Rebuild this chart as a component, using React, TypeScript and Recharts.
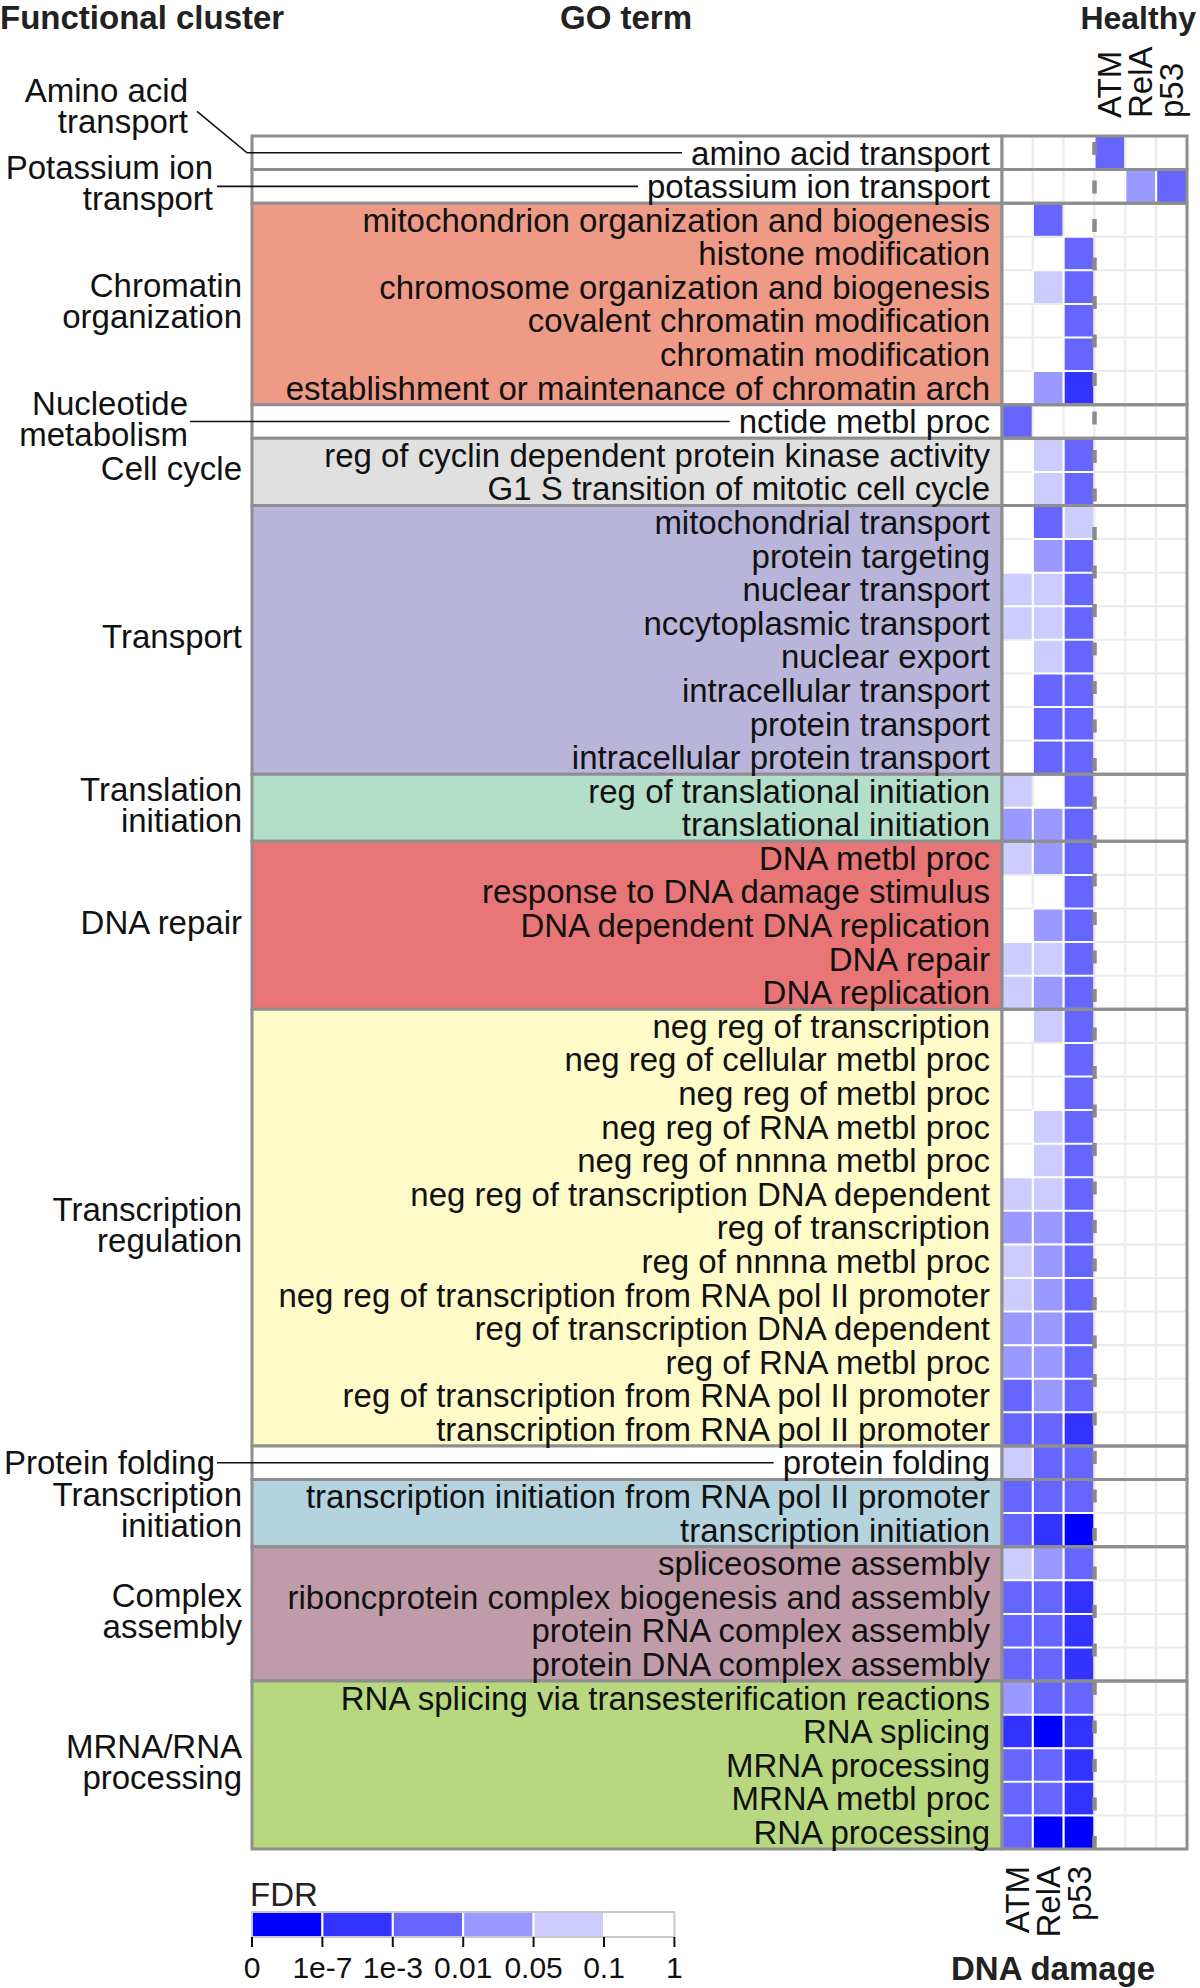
import React from 'react';
import {
  BarChart,
  Bar,
  Cell,
  XAxis,
  YAxis,
  ReferenceArea,
  ReferenceLine,
  LabelList
} from 'recharts';

const FONT = '"Liberation Sans", Arial, Helvetica, sans-serif';

// GO terms, top to bottom
const GO_TERMS = [
  'amino acid transport',
  'potassium ion transport',
  'mitochondrion organization and biogenesis',
  'histone modification',
  'chromosome organization and biogenesis',
  'covalent chromatin modification',
  'chromatin modification',
  'establishment or maintenance of chromatin arch',
  'nctide metbl proc',
  'reg of cyclin dependent protein kinase activity',
  'G1 S transition of mitotic cell cycle',
  'mitochondrial transport',
  'protein targeting',
  'nuclear transport',
  'nccytoplasmic transport',
  'nuclear export',
  'intracellular transport',
  'protein transport',
  'intracellular protein transport',
  'reg of translational initiation',
  'translational initiation',
  'DNA metbl proc',
  'response to DNA damage stimulus',
  'DNA dependent DNA replication',
  'DNA repair',
  'DNA replication',
  'neg reg of transcription',
  'neg reg of cellular metbl proc',
  'neg reg of metbl proc',
  'neg reg of RNA metbl proc',
  'neg reg of nnnna metbl proc',
  'neg reg of transcription DNA dependent',
  'reg of transcription',
  'reg of nnnna metbl proc',
  'neg reg of transcription from RNA pol II promoter',
  'reg of transcription DNA dependent',
  'reg of RNA metbl proc',
  'reg of transcription from RNA pol II promoter',
  'transcription from RNA pol II promoter',
  'protein folding',
  'transcription initiation from RNA pol II promoter',
  'transcription initiation',
  'spliceosome assembly',
  'riboncprotein complex biogenesis and assembly',
  'protein RNA complex assembly',
  'protein DNA complex assembly',
  'RNA splicing via transesterification reactions',
  'RNA splicing',
  'MRNA processing',
  'MRNA metbl proc',
  'RNA processing',
];

// functional clusters
const CLUSTER_LABELS = [
  ['Amino acid', 'transport'],
  ['Potassium ion', 'transport'],
  ['Chromatin', 'organization'],
  ['Nucleotide', 'metabolism'],
  ['Cell cycle'],
  ['Transport'],
  ['Translation', 'initiation'],
  ['DNA repair'],
  ['Transcription', 'regulation'],
  ['Protein folding'],
  ['Transcription', 'initiation'],
  ['Complex', 'assembly'],
  ['MRNA/RNA', 'processing'],
];
const CLUSTER_SIZES = [1, 1, 6, 1, 2, 8, 2, 5, 13, 1, 2, 4, 5];
const CLUSTER_COLORS = [
  '#ffffff', '#ffffff', '#ee9a86', '#ffffff', '#e0e0e0', '#b9b4d9', '#b3dec9',
  '#e87676', '#fffbc9', '#ffffff', '#b4d3df', '#c09cab', '#b8d87f',
];

// FDR bins: 0 = below 1e-7 ... 5 = above 0.1
const FDR_COLORS = ['#0000ff', '#3333ff', '#6666ff', '#9999ff', '#ccccff', '#ffffff'];
const FDR_TICKS = ['0', '1e-7', '1e-3', '0.01', '0.05', '0.1', '1'];

const COLUMN_NAMES = ['ATM', 'RelA', 'p53'];

// FDR bin of each GO term, DNA damage
const DD_ATM = [
  5, 5, 5, 5, 5, 5, 5, 5, 2, 5,
  5, 5, 5, 4, 4, 5, 5, 5, 5, 4,
  3, 4, 5, 5, 4, 4, 5, 5, 5, 5,
  5, 4, 3, 4, 4, 3, 3, 2, 2, 4,
  2, 2, 4, 2, 2, 2, 3, 1, 2, 2,
  2,
];
const DD_RELA = [
  5, 5, 2, 5, 4, 5, 5, 3, 5, 4,
  4, 2, 3, 4, 4, 4, 2, 2, 2, 5,
  3, 3, 5, 3, 4, 3, 4, 5, 5, 4,
  4, 4, 3, 3, 3, 3, 3, 3, 2, 2,
  2, 1, 3, 2, 2, 2, 2, 0, 2, 2,
  0,
];
const DD_P53 = [
  5, 5, 5, 2, 2, 2, 2, 1, 5, 2,
  2, 4, 2, 2, 2, 2, 2, 2, 2, 2,
  2, 2, 2, 2, 2, 2, 2, 2, 2, 2,
  2, 2, 2, 2, 2, 2, 2, 2, 1, 2,
  2, 0, 2, 1, 1, 1, 2, 1, 1, 1,
  0,
];
// FDR bin of each GO term, healthy
const H_ATM = [
  2, 5, 5, 5, 5, 5, 5, 5, 5, 5,
  5, 5, 5, 5, 5, 5, 5, 5, 5, 5,
  5, 5, 5, 5, 5, 5, 5, 5, 5, 5,
  5, 5, 5, 5, 5, 5, 5, 5, 5, 5,
  5, 5, 5, 5, 5, 5, 5, 5, 5, 5,
  5,
];
const H_RELA = [
  5, 3, 5, 5, 5, 5, 5, 5, 5, 5,
  5, 5, 5, 5, 5, 5, 5, 5, 5, 5,
  5, 5, 5, 5, 5, 5, 5, 5, 5, 5,
  5, 5, 5, 5, 5, 5, 5, 5, 5, 5,
  5, 5, 5, 5, 5, 5, 5, 5, 5, 5,
  5,
];
const H_P53 = [
  5, 2, 5, 5, 5, 5, 5, 5, 5, 5,
  5, 5, 5, 5, 5, 5, 5, 5, 5, 5,
  5, 5, 5, 5, 5, 5, 5, 5, 5, 5,
  5, 5, 5, 5, 5, 5, 5, 5, 5, 5,
  5, 5, 5, 5, 5, 5, 5, 5, 5, 5,
  5,
];

const COLUMNS = [DD_ATM, DD_RELA, DD_P53, H_ATM, H_RELA, H_P53];
const COL_KEYS = ['c0', 'c1', 'c2', 'c3', 'c4', 'c5'];

// label area to the left of the heatmap, in cell widths
const LABEL_SPAN = 24.33;
const GRID = '#8e8e8e';

// where the small clusters put their label and leader line
const LABEL_LAYOUT: Record<string, any> = {
  'Amino acid': { dx: -64, dy: -46.5, leader: [[-55, -41.5], [-5, 0]] },
  'Potassium ion': { dx: -39, dy: -3, leader: [[-35, 0]] },
  'Nucleotide': { dx: -64, dy: -3, leader: [[-62, 0]] },
  'Protein folding': { dx: -37, dy: 0, leader: [[-35, 0]] },
};

const rows = GO_TERMS.map((term, i) => {
  const r: any = { term, bins: COLUMNS.map(col => col[i]) };
  COL_KEYS.forEach(k => { r[k] = 1; });
  return r;
});

let start = 0;
const clusters = CLUSTER_SIZES.map((n, i) => {
  const c = {
    lines: CLUSTER_LABELS[i],
    color: CLUSTER_COLORS[i],
    first: GO_TERMS[start],
    last: GO_TERMS[start + n - 1],
  };
  start += n;
  return c;
});

let ctx: CanvasRenderingContext2D | null = null;
const textWidth = (s: string) => {
  if (!ctx) ctx = document.createElement('canvas').getContext('2d');
  if (!ctx) return s.length * 16;
  ctx.font = `33px ${FONT}`;
  return ctx.measureText(s).width;
};

const TermLabel = (props: any) => {
  const vb = props.viewBox || props;
  return (
    <text x={vb.x - 12} y={vb.y + vb.height / 2} textAnchor="end" dominantBaseline="central"
      fontSize={33} fill="#111" fontFamily={FONT}>
      {props.value}
    </text>
  );
};

const ClusterLabel = (props: any) => {
  const { viewBox, cluster } = props;
  if (!viewBox) return null;
  const { x, y, width, height } = viewBox;
  const mid = y + height / 2;
  const lay = LABEL_LAYOUT[cluster.lines[0]] || { dx: -10, dy: -3 };
  const cy = mid + lay.dy;
  const n = cluster.lines.length;
  let leader = null;
  if (lay.leader) {
    const endX = x + width - 12 - textWidth(cluster.first) - 9;
    const pts = lay.leader.map((p: number[]) => `${x + p[0]},${mid + p[1]}`);
    pts.push(`${endX},${mid}`);
    leader = <polyline points={pts.join(' ')} fill="none" stroke="#111" strokeWidth={1.6} />;
  }
  return (
    <g>
      {leader}
      {cluster.lines.map((line: string, i: number) => (
        <text key={i} x={x + lay.dx} y={cy + (i - (n - 1) / 2) * 31} textAnchor="end"
          dominantBaseline="central" fontSize={33} fill="#111" fontFamily={FONT}>
          {line}
        </text>
      ))}
    </g>
  );
};

const ColumnTick = (props: any) => {
  const { x, y, payload, side } = props;
  const name = COLUMN_NAMES[Math.floor(payload.value) % 3];
  const ty = side === 'top' ? y - 18 : y + 17;
  return (
    <text transform={`translate(${x},${ty}) rotate(-90)`} textAnchor={side === 'top' ? 'start' : 'end'}
      dominantBaseline="central" fontSize={33} fill="#111" fontFamily={FONT}>
      {name}
    </text>
  );
};

const Legend = () => {
  const x0 = 252;
  const seg = 70.4;
  return (
    <g>
      <text x={250} y={1906} fontSize={33} fill="#222">FDR</text>
      {FDR_COLORS.map((c, i) => (
        <rect key={c} x={x0 + i * seg} y={1912} width={seg} height={25} fill={c} stroke="#fff" strokeWidth={2} />
      ))}
      <rect x={x0} y={1912} width={seg * 6} height={25} fill="none" stroke="#c8c8c8" strokeWidth={2} />
      {FDR_TICKS.map((t, i) => (
        <g key={t}>
          <line x1={x0 + i * seg} x2={x0 + i * seg} y1={1937} y2={1947} stroke="#111" strokeWidth={2} />
          <text x={x0 + i * seg} y={1978} textAnchor="middle" fontSize={30} fill="#111">{t}</text>
        </g>
      ))}
    </g>
  );
};

const App: React.FC = () => {
  return (
    <div style={{ position: 'absolute', left: 0, top: 0, width: 1200, height: 1988, fontFamily: FONT, background: '#fff' }}>
      <BarChart
        width={1200}
        height={1988}
        data={rows}
        layout="vertical"
        margin={{ top: 0, right: 13, bottom: 0, left: 252 }}
        barCategoryGap={0}
        barGap={0}
      >
        <XAxis xAxisId="dd" type="number" orientation="bottom" domain={[-LABEL_SPAN, 6]} height={139}
          ticks={[0.5, 1.5, 2.5]} interval={0} axisLine={false} tickLine={false} tickSize={0} tickMargin={0}
          tick={<ColumnTick side="bottom" />} allowDataOverflow />
        <XAxis xAxisId="h" type="number" orientation="top" domain={[-LABEL_SPAN, 6]} height={136}
          ticks={[3.5, 4.5, 5.5]} interval={0} axisLine={false} tickLine={false} tickSize={0} tickMargin={0}
          tick={<ColumnTick side="top" />} allowDataOverflow />
        <YAxis type="category" dataKey="term" hide />

        {clusters.map(c => (
          <ReferenceArea key={'bg' + c.first} xAxisId="dd" x1={-LABEL_SPAN} x2={0} y1={c.first} y2={c.last}
            fill={c.color} fillOpacity={1} stroke={GRID} strokeWidth={3} ifOverflow="visible"
            label={(p: any) => <ClusterLabel {...p} cluster={c} />} />
        ))}

        {COL_KEYS.map((k, j) => (
          <Bar key={k} xAxisId="dd" dataKey={k} stackId="fdr" isAnimationActive={false}>
            {rows.map((r, i) => (
              <Cell key={i} fill={FDR_COLORS[r.bins[j]]} stroke={r.bins[j] === 5 ? '#ebebeb' : '#ffffff'} strokeWidth={2} />
            ))}
            {j === 0 && <LabelList dataKey="term" content={<TermLabel />} />}
          </Bar>
        ))}

        {clusters.map(c => (
          <ReferenceArea key={'box' + c.first} xAxisId="dd" x1={0} x2={6} y1={c.first} y2={c.last}
            fill="none" stroke={GRID} strokeWidth={3} ifOverflow="visible" zIndex={350} />
        ))}
        <ReferenceLine xAxisId="dd" x={3} stroke="#8a8a8a" strokeWidth={4.5} strokeDasharray="13 25.5" />
      </BarChart>

      <svg width={1200} height={1988} style={{ position: 'absolute', left: 0, top: 0, pointerEvents: 'none' }}
        fontFamily={FONT}>
        <text x={0} y={29} fontSize={33} fontWeight="bold" fill="#222">Functional cluster</text>
        <text x={626} y={29} fontSize={33} fontWeight="bold" fill="#222" textAnchor="middle">GO term</text>
        <text x={1196} y={29} fontSize={32} fontWeight="bold" fill="#222" textAnchor="end">Healthy</text>
        <text x={951} y={1980} fontSize={33} fontWeight="bold" fill="#222">DNA damage</text>
        <Legend />
      </svg>
    </div>
  );
};

export default App;
